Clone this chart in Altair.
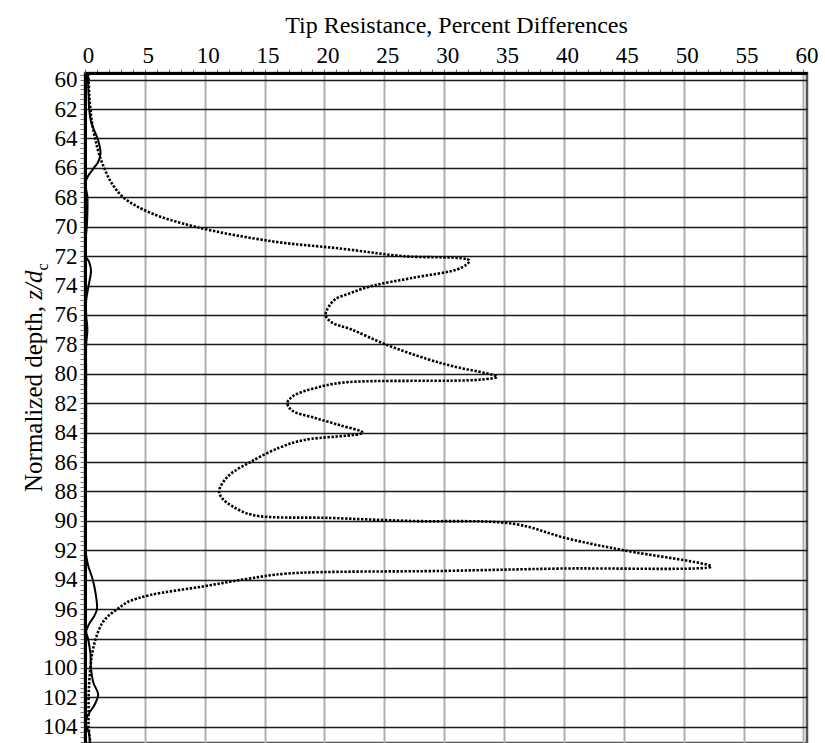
import altair as alt
import pandas as pd

# Solid profile (near-zero differences)
solid_depth = [59.6, 60, 61, 62, 63, 64, 65, 65.6, 66, 66.5, 67, 68, 69, 70, 71, 72,
               72.4, 73, 74, 75, 76, 77, 78, 80, 82, 84, 86, 88, 90, 92, 93, 94, 95,
               96, 96.5, 97, 97.5, 98, 99, 100, 101, 101.8, 102.5, 103, 103.6, 104,
               104.5, 105.1]
solid_value = [0.25, 0.25, 0.3, 0.35, 0.55, 1.05, 1.3, 1.1, 0.75, 0.3, 0.05, 0.2, 0.2,
               0.15, 0.05, 0.05, 0.35, 0.5, 0.3, 0.1, 0.1, 0.2, 0.1, 0.1, 0.1, 0.1,
               0.05, 0.05, 0.05, 0.05, 0.25, 0.65, 0.9, 1.0, 0.75, 0.35, 0.1, 0.25,
               0.45, 0.5, 0.7, 1.1, 0.8, 0.4, 0.05, 0.15, 0.35, 0.4]

# Dotted profile
dotted_depth = [59.6, 60, 61, 62, 63, 64, 65, 66, 67, 68, 69, 70, 71, 71.5, 72, 72.3,
                72.8, 73.5, 74, 74.5, 75, 76, 76.5, 77, 78, 79, 79.5, 80.2, 80.4, 80.6,
                81, 81.5, 82, 82.5, 83, 83.5, 84, 84.5, 85, 86, 87, 88, 88.5, 89, 89.6,
                89.8, 90, 90.2, 91.2, 92.0, 93.1, 93.24, 93.4, 93.58, 93.95, 94.45,
                95.05, 95.5, 96, 96.5, 97, 98, 99, 100, 101, 102, 103, 104, 105.1]
dotted_value = [0.25, 0.3, 0.35, 0.45, 0.6, 0.85, 1.15, 1.6, 2.2, 3.2, 5.3, 9.2, 15.7,
                21.5, 26.5, 32.1, 31.4, 27.2, 24.1, 22.2, 20.8, 20.1, 20.6, 22.3, 25.1,
                28.6, 30.8, 34.4, 33.0, 21.5, 19.1, 17.4, 16.9, 17.3, 19.2, 21.3, 23.2,
                18.3, 16.3, 13.8, 11.9, 11.2, 11.5, 12.3, 14.0, 20.5, 27.0, 35.8, 40.3,
                45.0, 52.3, 39.7, 30.0, 16.9, 13.5, 9.9, 5.4, 3.6, 2.7, 1.9, 1.4, 0.9,
                0.6, 0.45, 0.35, 0.3, 0.3, 0.3, 0.45]

x_ticks = list(range(0, 61))
y_ticks = [round(59 + k / 3, 4) for k in range(2, 139)]

X_TITLE = "Tip Resistance, Percent Differences"
Y_TITLE = ["Normalized depth,", "z/d", "c"]

FONT = "Liberation Serif"

solid = pd.DataFrame({"depth": solid_depth, "value": solid_value})
dotted = pd.DataFrame({"depth": dotted_depth, "value": dotted_value})

major_y = "abs(datum.value / 2 - round(datum.value / 2)) < 0.01"

x_enc = alt.X(
    "value:Q",
    scale=alt.Scale(domain=[0, 60.3], nice=False, zero=False),
    axis=alt.Axis(
        orient="top",
        values=x_ticks,
        labelExpr="datum.value % 5 === 0 ? format(datum.value, 'd') : ''",
        labelFont=FONT, labelFontSize=23, labelColor="black",
        labelPadding=2, labelFlush=False, labelOverlap=False, labelOffset=3,
        tickSize=4, tickColor="#666", tickWidth=1,
        grid=True, gridColor="#b0b0b0", gridWidth=2,
        gridOpacity={"condition": {"test": "datum.value % 5 === 0", "value": 1}, "value": 0},
        domain=True, domainColor="black", domainWidth=3,
        title=X_TITLE, titleFont=FONT, titleFontSize=24, titleFontWeight="normal",
        titleColor="black", titleX=371, titleY=-41, titleBaseline="alphabetic",
        titleAlign="center",
    ),
)

y_enc = alt.Y(
    "depth:Q",
    scale=alt.Scale(domain=[59.55, 105.1], reverse=True, nice=False, zero=False),
    axis=alt.Axis(
        orient="left",
        values=y_ticks,
        labelExpr=f"{major_y} ? format(round(datum.value), 'd') : ''",
        labelFont=FONT, labelFontSize=23, labelColor="black",
        labelPadding=3, labelFlush=False, labelOverlap=False,
        tickSize=5, tickColor="#777", tickWidth=1,
        grid=True, gridColor="#1a1a1a", gridWidth=1.6,
        gridOpacity={"condition": {"test": major_y, "value": 1}, "value": 0},
        domain=True, domainColor="black", domainWidth=3,
        title=None,
    ),
)

solid_line = alt.Chart(solid).mark_line(
    color="black", strokeWidth=2, interpolate="catmull-rom", clip=True
).encode(x=x_enc, y=y_enc, order="depth:Q")

dotted_line = alt.Chart(dotted).mark_line(
    color="black", strokeWidth=2.6, strokeDash=[2.4, 1.6],
    interpolate="catmull-rom", clip=True
).encode(x=x_enc, y=y_enc, order="depth:Q")

# Vertical axis title built from pieces so that d carries a subscript c
title_style = dict(angle=270, align="left", baseline="alphabetic", font=FONT, color="black")
t1 = alt.Chart(pd.DataFrame({"t": [Y_TITLE[0]]})).mark_text(
    fontSize=25, **title_style
).encode(x=alt.value(-43), y=alt.value(419), text="t:N")
t2 = alt.Chart(pd.DataFrame({"t": [Y_TITLE[1]]})).mark_text(
    fontSize=25, fontStyle="italic", dx=192.3, **title_style
).encode(x=alt.value(-43), y=alt.value(419), text="t:N")
t3 = alt.Chart(pd.DataFrame({"t": [Y_TITLE[2]]})).mark_text(
    fontSize=16, dx=221.5, dy=6, **title_style
).encode(x=alt.value(-43), y=alt.value(419), text="t:N")

chart = alt.layer(solid_line, dotted_line, t1, t2, t3).properties(
    width=722,
    height=670,
    autosize=alt.AutoSizeParams(type="none"),
    padding={"left": 85, "top": 73, "right": 18, "bottom": 0},
    background="white",
).configure_view(stroke="#555", strokeWidth=2.5)

chart.save("out.html", embed_options={"renderer": "svg", "actions": False})
